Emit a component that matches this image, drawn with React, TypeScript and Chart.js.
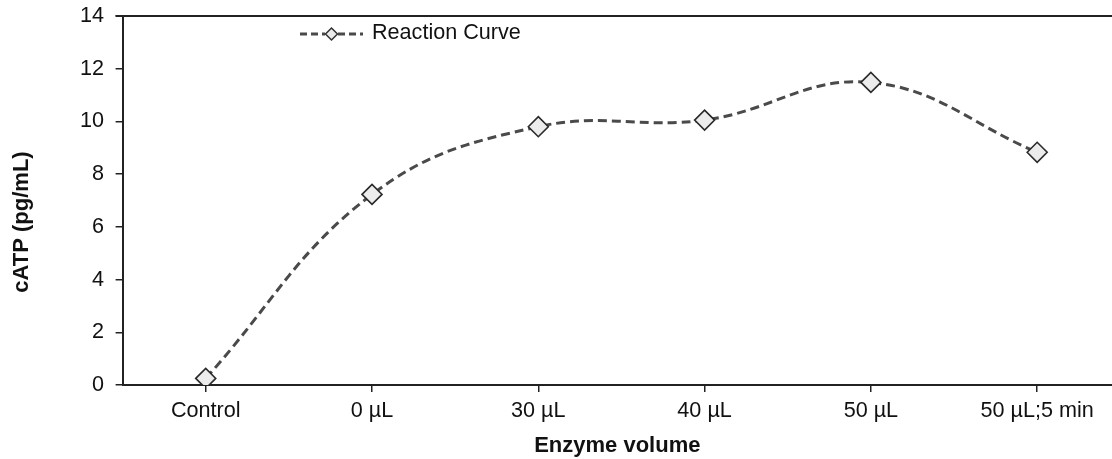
import React, { useEffect, useRef } from "react";
import { Chart, registerables } from "chart.js";

Chart.register(...registerables);

const categories = ["Control", "0 µL", "30 µL", "40 µL", "50 µL", "50 µL;5 min"];
const cATP = [0.25, 7.23, 9.8, 10.05, 11.48, 8.83];
const yTickValues = [0, 2, 4, 6, 8, 10, 12, 14];
const seriesName = "Reaction Curve";
const xTitle = "Enzyme volume";
const yTitle = "cATP (pg/mL)";

const FONT = "'Liberation Sans', Arial, Helvetica, sans-serif";
const LINE_COLOR = "#4a4a4a";
const AXIS_COLOR = "#222";

const decorPlugin = {
  id: "decor",
  afterDraw(chart: any) {
    const { ctx, chartArea } = chart;
    ctx.save();
    // top frame line
    ctx.strokeStyle = AXIS_COLOR;
    ctx.lineWidth = 2;
    ctx.beginPath();
    ctx.moveTo(chartArea.left - 7, chartArea.top);
    ctx.lineTo(chartArea.right, chartArea.top);
    ctx.stroke();

    // y axis title
    ctx.save();
    ctx.translate(22, 222);
    ctx.rotate(-Math.PI / 2);
    ctx.fillStyle = "#111";
    ctx.font = `bold 22px ${FONT}`;
    ctx.textAlign = "center";
    ctx.textBaseline = "middle";
    ctx.fillText(yTitle, 0, 0);
    ctx.restore();

    // legend
    const ly = 34;
    ctx.strokeStyle = LINE_COLOR;
    ctx.lineWidth = 3;
    ctx.setLineDash([7, 4]);
    ctx.beginPath();
    ctx.moveTo(300, ly);
    ctx.lineTo(325, ly);
    ctx.moveTo(338, ly);
    ctx.lineTo(363, ly);
    ctx.stroke();
    ctx.setLineDash([]);
    ctx.beginPath();
    ctx.moveTo(331.5, ly - 6);
    ctx.lineTo(337.5, ly);
    ctx.lineTo(331.5, ly + 6);
    ctx.lineTo(325.5, ly);
    ctx.closePath();
    ctx.fillStyle = "#ececec";
    ctx.fill();
    ctx.lineWidth = 1.5;
    ctx.strokeStyle = "#333";
    ctx.stroke();
    ctx.fillStyle = "#111";
    ctx.font = `21.6px ${FONT}`;
    ctx.textAlign = "left";
    ctx.textBaseline = "middle";
    ctx.fillText(seriesName, 372, ly - 1);
    ctx.restore();
  },
};

export default function App() {
  const canvasRef = useRef<HTMLCanvasElement | null>(null);

  useEffect(() => {
    document.body.style.margin = "0";
    if (!canvasRef.current) return;
    const chart = new Chart(canvasRef.current, {
      type: "line",
      data: {
        datasets: [
          {
            label: seriesName,
            data: cATP.map((v, i) => ({ x: i, y: v })),
            borderColor: LINE_COLOR,
            borderWidth: 3,
            borderDash: [9, 5],
            tension: 0.4,
            pointStyle: "rectRot",
            pointRadius: 10,
            pointBorderWidth: 1.6,
            pointBorderColor: "#2a2a2a",
            pointBackgroundColor: "#ececec",
            fill: false,
          },
        ],
      },
      options: {
        animation: false,
        responsive: true,
        maintainAspectRatio: false,
        layout: { autoPadding: false, padding: { top: 16, right: 0, left: 0, bottom: 0 } },
        plugins: {
          legend: { display: false },
          tooltip: { enabled: false },
        },
        scales: {
          x: {
            type: "linear",
            min: -0.5,
            max: 5.45,
            afterBuildTicks: (scale: any) => {
              scale.ticks = categories.map((_, i) => ({ value: i }));
            },
            afterFit: (scale: any) => {
              scale.height = 74;
              scale.paddingLeft = 0;
              scale.paddingRight = 0;
            },
            ticks: {
              color: "#111",
              font: { family: FONT, size: 21.6 },
              padding: 6,
              maxRotation: 0,
              autoSkip: false,
              callback: (v: any) => categories[Math.round(Number(v))] ?? "",
            },
            grid: {
              drawOnChartArea: false,
              drawTicks: true,
              tickLength: 7,
              color: AXIS_COLOR,
              lineWidth: 1.5,
            },
            border: { display: true, color: AXIS_COLOR, width: 2 },
            title: {
              display: true,
              text: xTitle,
              color: "#111",
              font: { family: FONT, size: 22, weight: "bold" },
              padding: { top: 0, bottom: 0 },
            },
          },
          y: {
            min: 0,
            max: 14,
            afterBuildTicks: (scale: any) => {
              scale.ticks = yTickValues.map((v) => ({ value: v }));
            },
            afterFit: (scale: any) => {
              scale.width = 122.6;
              scale.paddingTop = 0;
              scale.paddingBottom = 0;
            },
            ticks: {
              color: "#111",
              font: { family: FONT, size: 21.6 },
              padding: 11.5,
            },
            grid: {
              drawOnChartArea: false,
              drawTicks: true,
              tickLength: 7,
              color: AXIS_COLOR,
              lineWidth: 1.5,
            },
            border: { display: true, color: AXIS_COLOR, width: 2 },
          },
        },
      },
      plugins: [decorPlugin],
    });
    return () => chart.destroy();
  }, []);

  return (
    <div style={{ position: "relative", width: 1112, height: 459 }}>
      <canvas ref={canvasRef} />
    </div>
  );
}
